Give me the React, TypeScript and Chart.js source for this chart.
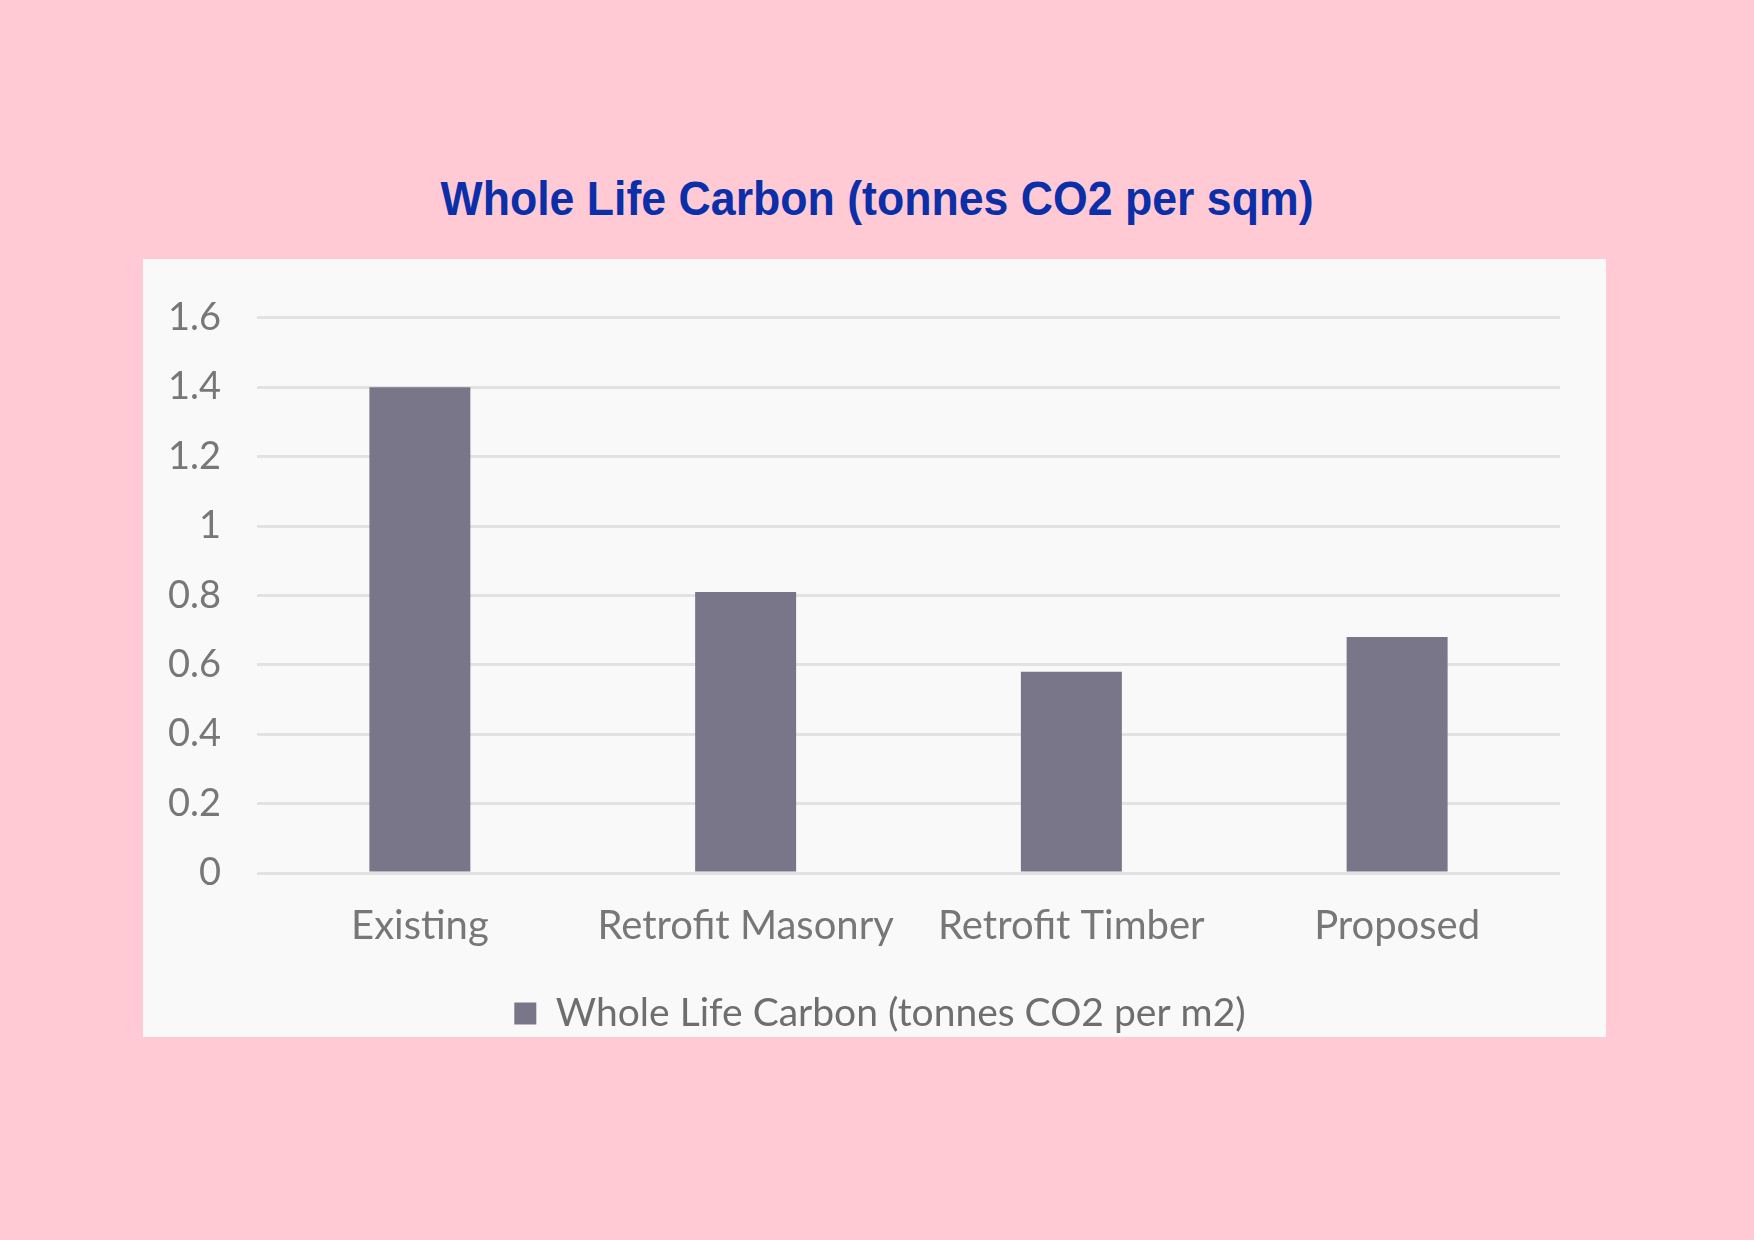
import React, { useEffect, useRef } from 'react';
import { Chart, registerables } from 'chart.js';

Chart.register(...registerables);

const categories = ['Existing', 'Retrofit Masonry', 'Retrofit Timber', 'Proposed'];
const carbonValues = [1.4, 0.81, 0.58, 0.68];
const seriesLabel = 'Whole Life Carbon (tonnes CO2 per m2)';
const chartTitle = 'Whole Life Carbon (tonnes CO2 per sqm)';
const yTicks = [0, 0.2, 0.4, 0.6, 0.8, 1, 1.2, 1.4, 1.6];

// legend in the original sits a little right of the canvas centre
const legendShift = {
  id: 'legendShift',
  afterLayout(chart: any) {
    if (chart.legend) chart.legend.left += 57;
  },
};

const BarChart: React.FC = () => {
  const canvasRef = useRef<HTMLCanvasElement>(null);
  const chartRef = useRef<Chart | null>(null);

  useEffect(() => {
    if (!canvasRef.current) return;
    if (chartRef.current) chartRef.current.destroy();

    chartRef.current = new Chart(canvasRef.current, {
      type: 'bar',
      data: {
        labels: categories,
        datasets: [
          {
            label: seriesLabel,
            data: carbonValues,
            backgroundColor: '#7a7689',
            borderWidth: 0,
            categoryPercentage: 1,
            barPercentage: 0.31,
          },
        ],
      },
      plugins: [legendShift],
      options: {
        responsive: false,
        animation: false,
        maintainAspectRatio: false,
        layout: { padding: { top: 57, right: 46, bottom: -6, left: 0 } },
        plugins: {
          title: { display: false },
          tooltip: { enabled: false },
          legend: {
            position: 'bottom',
            labels: {
              boxWidth: 22,
              boxHeight: 22,
              padding: 2,
              color: '#6e6e6e',
              font: { family: 'Lato', size: 39 },
            },
          },
        },
        scales: {
          x: {
            grid: { display: false, drawTicks: false },
            border: { display: false },
            ticks: {
              color: '#777777',
              padding: 29,
              font: { family: 'Lato', size: 40 },
              maxRotation: 0,
            },
            afterFit: (scale: any) => {
              scale.height = 119;
            },
          },
          y: {
            min: 0,
            max: 1.6,
            afterBuildTicks: (scale: any) => {
              scale.ticks = yTicks.map((v) => ({ value: v }));
            },
            grid: { color: '#e2e2e2', lineWidth: 3, drawTicks: false },
            border: { display: false },
            ticks: {
              color: '#777777',
              padding: 36,
              font: { family: 'Lato', size: 38 },
              callback: (v: any) => String(Math.round(Number(v) * 10) / 10),
            },
            afterFit: (scale: any) => {
              scale.width = 114;
            },
          },
        },
      },
    });

    return () => {
      if (chartRef.current) {
        chartRef.current.destroy();
        chartRef.current = null;
      }
    };
  }, []);

  return <canvas ref={canvasRef} width={1463} height={778} style={{ display: 'block' }} />;
};

export default function App() {
  return (
    <div
      style={{
        position: 'fixed',
        left: 0,
        top: 0,
        width: 1754,
        height: 1240,
        background: '#ffcad4',
      }}
    >
      <div
        style={{
          position: 'absolute',
          left: 0,
          top: 175,
          width: 1754,
          textAlign: 'center',
          fontFamily: '"Liberation Sans", Arial, sans-serif',
          fontWeight: 'bold',
          fontSize: 48,
          lineHeight: 1,
          color: '#0b2fa8',
          transform: 'scaleX(0.93)',
          transformOrigin: '877px 0',
        }}
      >
        {chartTitle}
      </div>
      <div
        style={{
          position: 'absolute',
          left: 143,
          top: 259,
          width: 1463,
          height: 778,
          background: '#f9f9f9',
        }}
      >
        <BarChart />
      </div>
    </div>
  );
}
